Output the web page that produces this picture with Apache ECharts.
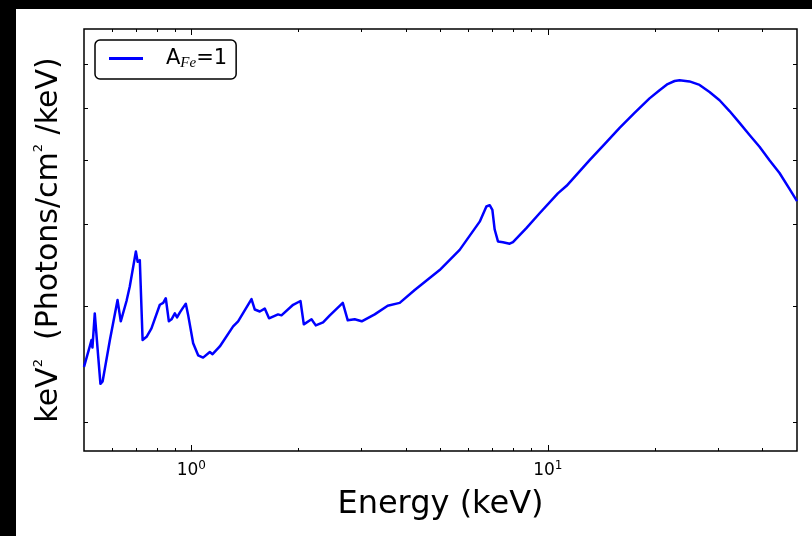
<!DOCTYPE html>
<html>
<head>
<meta charset="utf-8">
<script src="https://cdn.jsdelivr.net/npm/echarts@6/dist/echarts.min.js"></script>
<style>
  html, body { margin: 0; padding: 0; background: #000; }
  #chart { position: absolute; left: 16px; top: 9px; width: 796px; height: 527px; background: #fff; }
</style>
</head>
<body>
<div id="chart"></div>
<script>
// energy grid (keV) and keV^2 flux
const energy = [0.5, 0.519, 0.525, 0.528, 0.536, 0.548, 0.556, 0.564, 0.591, 0.621,
  0.634, 0.658, 0.672, 0.699, 0.707, 0.717, 0.730, 0.749, 0.773, 0.816,
  0.834, 0.848, 0.865, 0.880, 0.899, 0.912, 0.929, 0.948, 0.965, 0.979,
  1.012, 1.045, 1.079, 1.127, 1.147, 1.202, 1.310, 1.353, 1.475, 1.507,
  1.556, 1.607, 1.652, 1.751, 1.790, 1.930, 2.024, 2.068, 2.173, 2.234,
  2.342, 2.446, 2.660, 2.747, 2.873, 3.006, 3.269, 3.555, 3.842, 4.233,
  4.973, 5.659, 6.441, 6.725, 6.870, 6.990, 7.095, 7.247, 7.484, 7.816,
  7.985, 8.706, 9.484, 10.67, 11.29, 13.10, 14.43, 15.90, 17.51, 19.29,
  20.58, 21.68, 22.68, 23.42, 24.97, 26.65, 28.42, 30.32, 32.34, 34.50,
  36.80, 39.25, 41.86, 44.66, 47.63, 50]
const flux = [2.43, 2.61, 2.67, 2.60, 2.93, 2.52, 2.29, 2.31, 2.67, 3.07,
  2.85, 3.06, 3.22, 3.64, 3.51, 3.53, 2.67, 2.70, 2.78, 3.02,
  3.04, 3.09, 2.85, 2.87, 2.93, 2.89, 2.94, 2.99, 3.03, 2.92,
  2.64, 2.53, 2.51, 2.56, 2.54, 2.61, 2.80, 2.85, 3.08, 2.97,
  2.95, 2.98, 2.88, 2.92, 2.91, 3.02, 3.06, 2.82, 2.87, 2.81,
  2.84, 2.91, 3.04, 2.86, 2.87, 2.85, 2.92, 3.01, 3.04, 3.18,
  3.41, 3.66, 4.04, 4.26, 4.28, 4.21, 3.93, 3.77, 3.76, 3.74,
  3.76, 3.95, 4.16, 4.46, 4.58, 5.01, 5.30, 5.61, 5.91, 6.22,
  6.40, 6.54, 6.61, 6.63, 6.60, 6.52, 6.36, 6.18, 5.95, 5.71,
  5.47, 5.25, 5.01, 4.79, 4.53, 4.34]

const xMajorTicks = [1, 10]
const xMinorTicks = [0.6, 0.7, 0.8, 0.9, 2, 3, 4, 5, 6, 7, 8, 9, 20, 30, 40]
const yTicks = [2, 3, 4, 5, 6, 7]
const seriesName = 'A_Fe=1'

const chart = echarts.init(document.getElementById('chart'))

const font = 'DejaVu Sans'
const xRange = { min: 0.5, max: 50 }
const yRange = { min: 1.81, max: 7.93 }

function xAxisDef(position, ticks, len, withLabel) {
  return {
    type: 'log',
    gridIndex: 0,
    position: position,
    min: xRange.min,
    max: xRange.max,
    axisLine: { show: false },
    splitLine: { show: false },
    axisTick: { show: true, inside: true, length: len, customValues: ticks, lineStyle: { color: '#000', width: 1 } },
    axisLabel: withLabel ? {
      show: true,
      customValues: ticks,
      margin: 9,
      color: '#000',
      fontFamily: font,
      fontSize: 17,
      formatter: (v) => '10{sup|' + Math.round(Math.log10(v)) + '}',
      rich: { sup: { fontSize: 12, fontFamily: font, color: '#000', verticalAlign: 'top', padding: [0, 0, 10, 0] } }
    } : { show: false }
  }
}

function yAxisDef(position) {
  return {
    type: 'log',
    gridIndex: 0,
    position: position,
    min: yRange.min,
    max: yRange.max,
    axisLine: { show: false },
    splitLine: { show: false },
    axisTick: { show: true, inside: true, length: 4, customValues: yTicks, lineStyle: { color: '#000', width: 1 } },
    axisLabel: { show: false }
  }
}

const xBottom = xAxisDef('bottom', xMajorTicks, 6, true)
xBottom.name = 'Energy (keV)'
xBottom.nameLocation = 'middle'
xBottom.nameGap = 38
xBottom.nameTextStyle = { fontFamily: font, fontSize: 32, color: '#000' }

const yLeft = yAxisDef('left')
yLeft.name = 'keV{sup|2}  (Photons/cm{sup|2} /keV)'
yLeft.nameLocation = 'middle'
yLeft.nameGap = 18
yLeft.nameTextStyle = {
  fontFamily: font, fontSize: 30, color: '#000', lineHeight: 34,
  rich: { sup: { fontFamily: font, fontSize: 13, color: '#000', verticalAlign: 'top', lineHeight: 34, padding: [0, 0, 16, 0] } }
}

const option = {
  animation: false,
  backgroundColor: '#fff',
  grid: { left: 68, top: 20, right: 15, bottom: 85, show: true, borderColor: '#000', borderWidth: 1.5, backgroundColor: 'transparent' },
  legend: {
    left: 79,
    top: 31,
    orient: 'vertical',
    data: [{ name: seriesName, icon: 'rect' }],
    itemWidth: 34,
    itemHeight: 3,
    padding: [8, 9, 8, 14],
    borderColor: '#000',
    borderWidth: 1.5,
    borderRadius: 5,
    formatter: () => 'A{sub|Fe}=1',
    textStyle: {
      fontFamily: font, fontSize: 21, color: '#000', padding: [0, 0, 0, 18],
      rich: { sub: { fontFamily: 'Liberation Serif', fontStyle: 'italic', fontSize: 15, color: '#000', verticalAlign: 'bottom', padding: [10, 0, 0, 0] } }
    }
  },
  xAxis: [
    xBottom,
    xAxisDef('bottom', xMinorTicks, 3, false),
    xAxisDef('top', xMajorTicks, 6, false),
    xAxisDef('top', xMinorTicks, 3, false)
  ],
  yAxis: [yLeft, yAxisDef('right')],
  series: [
    {
      name: seriesName,
      type: 'line',
      xAxisIndex: 0,
      yAxisIndex: 0,
      symbol: 'none',
      clip: true,
      lineStyle: { color: '#0000ff', width: 2.5, join: 'round' },
      itemStyle: { color: '#0000ff' },
      data: energy.map((e, i) => [e, flux[i]])
    }
  ]
}

chart.setOption(option)
</script>
</body>
</html>
